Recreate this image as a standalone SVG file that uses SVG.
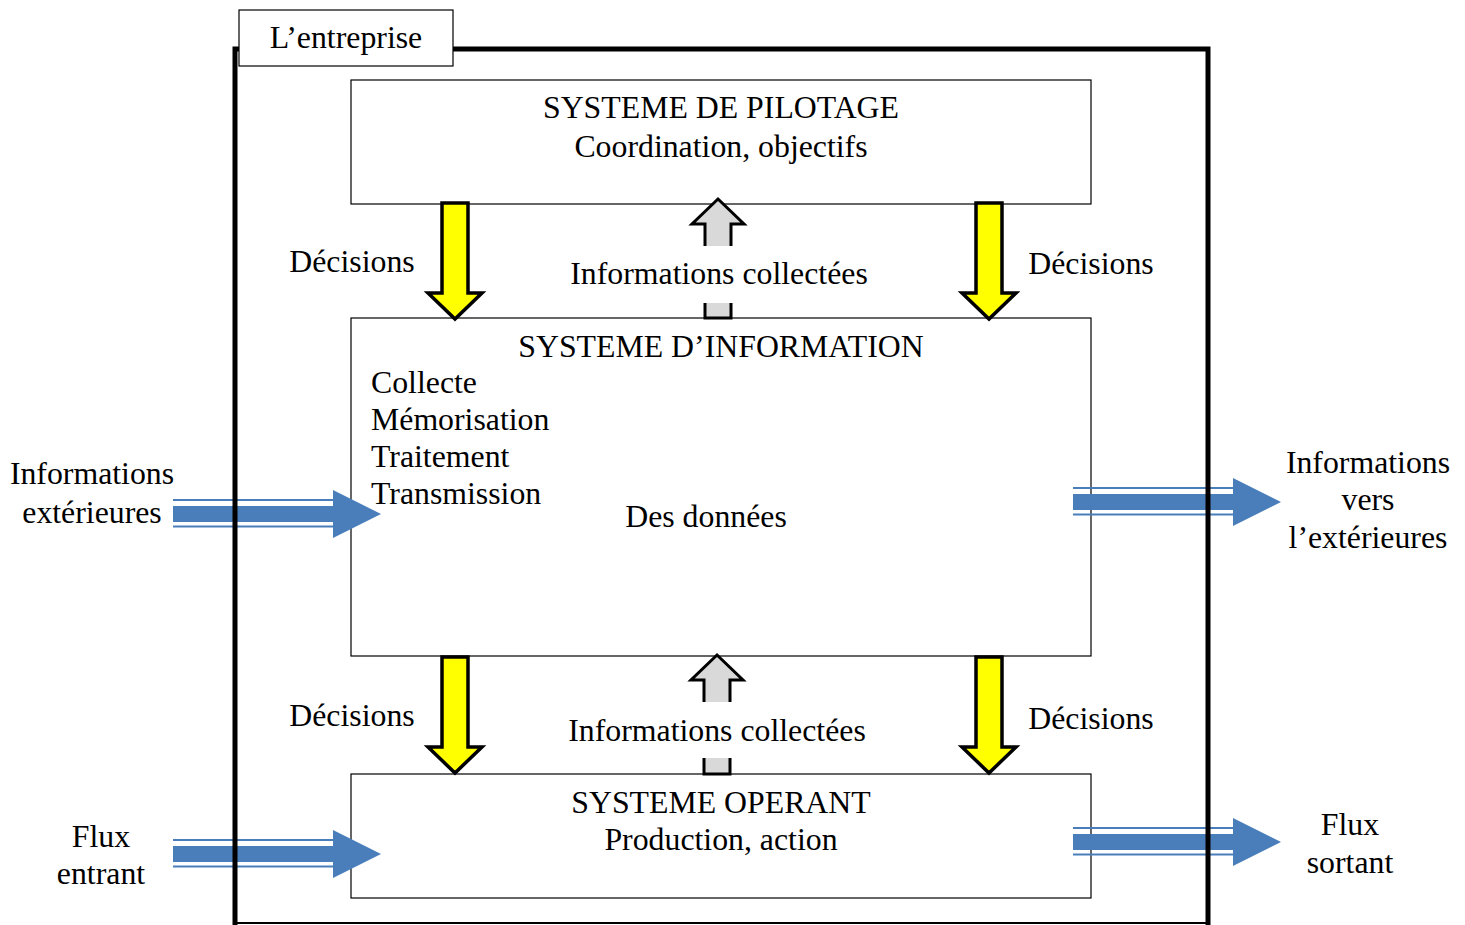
<svg xmlns="http://www.w3.org/2000/svg" width="1465" height="925" viewBox="0 0 1465 925">
<defs>
<style>
text{font-family:"Liberation Serif","Times New Roman",serif;font-size:31.8px;fill:#000}
.c{text-anchor:middle}
.box{fill:#fff;stroke:#000;stroke-width:1.2}
.yel{fill:#ffff00;stroke:#000;stroke-width:3.5;stroke-linejoin:miter}
.gry{fill:#d9d9d9;stroke:#000;stroke-width:3;stroke-linejoin:miter}
.blu{fill:#4a7ebb}
.thin{stroke:#4a7ebb;stroke-width:2;fill:none}
</style>
<path id="down" d="M-13,0 H13 V90 H27 L0,116 L-27,90 H-13 Z"/>
<path id="up" d="M0,0 L26,25 H13 V119 H-13 V25 H-26 Z"/>
<g id="blueArrow">
<rect x="0" y="-8" width="160" height="16" class="blu"/>
<line x1="0" y1="-14" x2="160" y2="-14" class="thin"/>
<line x1="0" y1="12.5" x2="160" y2="12.5" class="thin"/>
<path d="M160,-24 L208,0 L160,24 Z" class="blu"/>
</g>
</defs>
<rect width="1465" height="925" fill="#fff"/>

<g id="pilotage">
<rect x="351" y="80" width="740" height="124" class="box"/>
<text x="721" y="118" class="c">SYSTEME DE PILOTAGE</text>
<text x="721" y="157" class="c">Coordination, objectifs</text>
</g>
<g id="information">
<rect x="351" y="318" width="740" height="338" class="box"/>
<text x="721" y="357" class="c">SYSTEME D’INFORMATION</text>
<text x="371" y="393">Collecte</text>
<text x="371" y="430">Mémorisation</text>
<text x="371" y="467">Traitement</text>
<text x="371" y="504">Transmission</text>
<text x="706" y="527" class="c">Des données</text>
</g>
<g id="operant">
<rect x="351" y="774" width="740" height="124" class="box"/>
<text x="721" y="813" class="c">SYSTEME OPERANT</text>
<text x="721" y="850" class="c">Production, action</text>
</g>

<g id="connectors">
<use href="#down" x="455" y="203" class="yel"/>
<use href="#down" x="989" y="203" class="yel"/>
<use href="#down" x="455" y="657" class="yel"/>
<use href="#down" x="989" y="657" class="yel"/>
<use href="#up" x="718" y="199" class="gry"/>
<use href="#up" x="717" y="655" class="gry"/>
<rect x="560" y="246" width="318" height="57" fill="#fff"/>
<rect x="558" y="702" width="318" height="56" fill="#fff"/>
<use href="#blueArrow" x="173" y="514"/>
<use href="#blueArrow" x="1073" y="502"/>
<use href="#blueArrow" x="173" y="854"/>
<use href="#blueArrow" x="1073" y="842"/>
</g>

<g id="entreprise">
<path d="M235,925 V49 H1208 V925" fill="none" stroke="#000" stroke-width="5"/>
<line x1="235" y1="923" x2="1208" y2="923" stroke="#000" stroke-width="2"/>
<rect x="239" y="10" width="214" height="56" class="box"/>
<text x="346" y="48" class="c">L’entreprise</text>
</g>

<g id="labels">
<text x="352" y="272" class="c">Décisions</text>
<text x="1091" y="274" class="c">Décisions</text>
<text x="352" y="726" class="c">Décisions</text>
<text x="1091" y="729" class="c">Décisions</text>
<text x="719" y="284" class="c">Informations collectées</text>
<text x="717" y="741" class="c">Informations collectées</text>
<text x="92" y="484" class="c">Informations</text>
<text x="92" y="523" class="c">extérieures</text>
<text x="1368" y="473" class="c">Informations</text>
<text x="1368" y="510" class="c">vers</text>
<text x="1368" y="548" class="c">l’extérieures</text>
<text x="101" y="847" class="c">Flux</text>
<text x="101" y="884" class="c">entrant</text>
<text x="1350" y="835" class="c">Flux</text>
<text x="1350" y="873" class="c">sortant</text>
</g>
</svg>
